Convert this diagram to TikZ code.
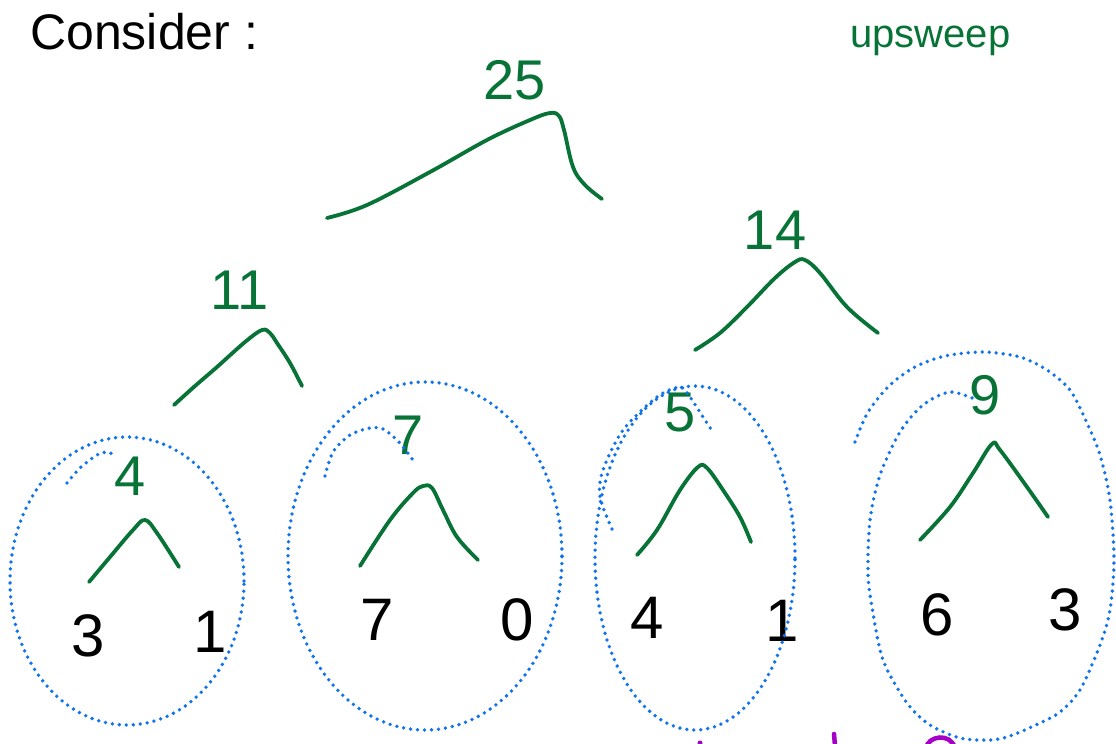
\documentclass[tikz,border=0pt]{standalone}
\usepackage{fontspec}
\setmainfont{Liberation Sans}
\definecolor{hgreen}{RGB}{8,115,55}
\definecolor{hblue}{RGB}{15,115,240}
\definecolor{hpurple}{RGB}{165,0,200}
\tikzset{
  hat/.style={draw=hgreen, line width=3.8pt, line cap=round, line join=round},
  dots/.style={draw=hblue, line width=3.8pt, line cap=round, dash pattern=on 0pt off 7pt},
  gnum/.style={text=hgreen, inner sep=0pt, font=\fontsize{56}{60}\selectfont},
  bnum/.style={text=black, inner sep=0pt, font=\fontsize{60}{64}\selectfont},
}
\begin{document}
\begin{tikzpicture}[x=1pt,y=-1pt]
\useasboundingbox (0,0) rectangle (1116,744);
\fill[white] (0,0) rectangle (1116,744);

% titles
\node[anchor=base west, inner sep=0pt, font=\fontsize{50}{54}\selectfont] (title) at (30,49) {Consider :};
\node[anchor=base west, inner sep=0pt, text=hgreen, font=\fontsize{40}{44}\selectfont] (label) at (850,47) {upsweep};

% green sums
\node[gnum] (n25) at (515,80) {25};
\node[gnum] (n14) at (775,230) {14};
\node[gnum] (n11) at (240,290) {11};
\node[gnum] (n4) at (130,476) {4};
\node[gnum] (n7) at (408,435) {7};
\node[gnum] (n5) at (680,413) {5};
\node[gnum] (n9) at (985,395) {9};

% black leaves
\node[bnum] (l3) at (88,636) {3};
\node[bnum] (l1) at (210,632) {1};
\node[bnum] (l7) at (377,620) {7};
\node[bnum] (l0) at (517,620) {0};
\node[bnum] (l4) at (647,618) {4};
\node[bnum] (l1b) at (782,621) {1};
\node[bnum] (l6) at (937,615) {6};
\node[bnum] (l3b) at (1065,610) {3};

% hats
\draw[hat] plot[smooth, tension=0.6] coordinates {(327,218) (367,205) (430,172) (487,140) (530,120) (550,113) (559,116) (564,130) (573,167) (585,185) (602,199)};
\draw[hat] plot[smooth, tension=0.6] coordinates {(695,350) (720,333) (747,307) (775,278) (795,262) (805,260) (820,273) (847,307) (878,333)};
\draw[hat] plot[smooth, tension=0.6] coordinates {(174,405) (195,386) (217,367) (245,342) (262,330) (270,333) (277,343) (290,363) (302,386)};
\draw[hat] plot[smooth, tension=0.6] coordinates {(89,582) (110,557) (133,530) (145,520) (157,533) (179,567)};
\draw[hat] plot[smooth, tension=0.6] coordinates {(360,566) (390,520) (413,493) (423,486) (432,488) (443,510) (457,537) (478,560)};
\draw[hat] plot[smooth, tension=0.6] coordinates {(637,555) (657,530) (680,490) (698,467) (707,468) (723,490) (740,517) (751,542)};
\draw[hat] plot[smooth, tension=0.6] coordinates {(920,540) (950,507) (973,473) (992,444) (1000,450) (1027,487) (1048,517)};

% dotted groupings
\draw[dots] (127,581) ellipse [x radius=117pt, y radius=144pt];
\draw[dots] plot[smooth] coordinates {(67,483) (80,468) (97,455) (107,452) (112,454)};
\draw[dots] (425,556) ellipse [x radius=137pt, y radius=174pt];
\draw[dots] plot[smooth] coordinates {(325,476) (333,452) (350,435) (370,428) (383,429) (397,440) (407,452) (415,463)};
\draw[dots] (695,558) ellipse [x radius=100pt, y radius=172pt];
\draw[dots] plot[smooth] coordinates {(612,529) (600,497) (603,470) (623,430) (657,397) (680,387) (690,397) (703,417) (713,432)};
\draw[dots] plot[smooth] coordinates {(855,442) (868,412) (890,385) (915,367) (945,356) (983,352) (1020,357) (1047,370) (1070,390) (1087,423) (1100,455) (1110,500) (1114,560) (1110,610) (1100,645) (1080,690) (1060,712) (1040,723) (1010,736) (990,740) (960,738) (930,725) (907,703) (883,660) (872,607) (868,573) (870,520) (880,475) (900,432) (923,405) (950,392) (977,400)};

% purple fragments at the bottom edge
\fill[hpurple] (700,743) circle (2.5pt);
\draw[hpurple, line width=4.5pt, line cap=round] (834,734) -- (835,746);
\draw[hpurple, line width=4.5pt] (926,748) .. controls (928,736) and (950,732) .. (955,748);
\end{tikzpicture}
\end{document}
